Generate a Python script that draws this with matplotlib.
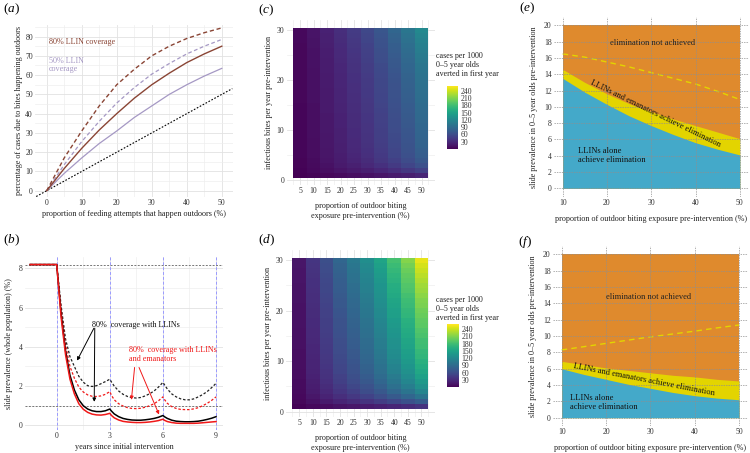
import numpy as np
import matplotlib
matplotlib.use("Agg")
import matplotlib.pyplot as plt
from matplotlib.ticker import MultipleLocator, FixedLocator

plt.rcParams['font.family'] = ['Liberation Serif', 'DejaVu Serif']
plt.rcParams['mathtext.fontset'] = 'custom'
plt.rcParams['mathtext.rm'] = 'Liberation Serif'
plt.rcParams['mathtext.it'] = 'Liberation Serif:italic'

# ---------------- panel (a) ----------------
a_x = [0, 5, 10, 15, 20, 25, 30, 35, 40, 45, 50]
a_llin80_solid = [0, 11.5, 22, 31.5, 40, 48, 55, 61, 66.5, 71, 75]
a_llin80_dash = [0, 17, 31, 44, 55, 63, 70, 75, 79, 82, 84.5]
a_llin50_dash = [0, 13.5, 25.5, 36, 45.5, 53.5, 60.5, 66, 71, 75, 78.5]
a_llin50_solid = [0, 9, 17, 24.5, 31, 38, 44, 50, 55, 59.5, 63.5]
a_ref_x = [-3, 53]
a_ref_y = [-3, 53]

# ---------------- panel (b) ----------------
b_t = [-1.5, 0, 0.25, 0.5, 0.75, 1.0, 1.25, 1.5, 1.75, 2.0, 2.25, 2.5, 2.75, 3.0,
       3.1, 3.25, 3.5, 3.75, 4.0, 4.25, 4.5, 4.75, 5.0, 5.25, 5.5, 5.75, 6.0,
       6.1, 6.25, 6.5, 6.75, 7.0, 7.25, 7.5, 7.75, 8.0, 8.25, 8.5, 8.75, 9.0]
b_llin_dash = [8.2, 8.2, 6.1, 4.4, 3.5, 3.0, 2.5, 2.2, 2.02, 1.98, 2.02, 2.12, 2.23, 2.35,
               2.2, 2.0, 1.75, 1.58, 1.47, 1.41, 1.39, 1.42, 1.5, 1.61, 1.75, 1.95, 2.19,
               2.05, 1.85, 1.6, 1.45, 1.35, 1.3, 1.3, 1.35, 1.45, 1.57, 1.72, 1.92, 2.14]
b_eman_dash = [8.2, 8.2, 5.9, 4.1, 3.0, 2.4, 1.95, 1.7, 1.55, 1.48, 1.47, 1.5, 1.58, 1.72,
               1.52, 1.3, 1.1, 0.98, 0.9, 0.86, 0.85, 0.87, 0.92, 1.0, 1.1, 1.25, 1.45,
               1.3, 1.12, 0.95, 0.86, 0.81, 0.8, 0.8, 0.84, 0.9, 1.0, 1.12, 1.27, 1.45]
b_llin_solid = [8.2, 8.2, 5.7, 3.8, 2.55, 1.8, 1.3, 1.0, 0.83, 0.74, 0.7, 0.7, 0.74, 0.83,
                0.72, 0.58, 0.44, 0.35, 0.3, 0.27, 0.26, 0.26, 0.28, 0.31, 0.35, 0.41, 0.5,
                0.43, 0.35, 0.26, 0.21, 0.19, 0.18, 0.18, 0.19, 0.21, 0.25, 0.3, 0.36, 0.44]
b_eman_solid = [8.2, 8.2, 5.5, 3.6, 2.35, 1.6, 1.1, 0.82, 0.66, 0.57, 0.53, 0.52, 0.55, 0.61,
                0.5, 0.38, 0.27, 0.2, 0.17, 0.15, 0.14, 0.14, 0.15, 0.17, 0.2, 0.24, 0.31,
                0.25, 0.19, 0.14, 0.11, 0.1, 0.1, 0.1, 0.1, 0.11, 0.13, 0.15, 0.17, 0.19]
b_baseline = 8.2
b_threshold = 1.0
b_rounds = [0, 3, 6, 9]

# ---------------- panels (c) and (d) ----------------
hm_x = [5, 10, 15, 20, 25, 30, 35, 40, 45, 50]
hm_y = list(range(1, 31))
c_vals = [
    [1, 3, 5, 7, 10, 12, 15, 19, 22, 27],
    [2, 6, 10, 14, 18, 22, 28, 34, 41, 49],
    [3, 7, 12, 18, 23, 29, 36, 44, 53, 63],
    [3, 8, 14, 20, 26, 32, 41, 49, 59, 71],
    [4, 9, 15, 21, 28, 35, 43, 53, 63, 76],
    [4, 9, 15, 22, 29, 36, 45, 54, 65, 78],
    [4, 9, 16, 22, 30, 37, 46, 56, 67, 81],
    [4, 9, 16, 23, 30, 38, 47, 57, 68, 82],
    [4, 10, 16, 23, 31, 38, 48, 58, 69, 83],
    [4, 10, 17, 23, 31, 39, 48, 59, 70, 84],
    [4, 10, 17, 24, 32, 39, 49, 60, 71, 85],
    [4, 10, 17, 24, 32, 40, 50, 60, 72, 87],
    [4, 10, 17, 24, 32, 40, 50, 61, 73, 88],
    [4, 10, 18, 25, 33, 41, 51, 62, 74, 89],
    [4, 10, 18, 25, 33, 41, 52, 63, 75, 90],
    [5, 11, 18, 26, 34, 42, 53, 64, 77, 92],
    [5, 11, 18, 26, 34, 43, 53, 65, 78, 93],
    [5, 11, 18, 26, 35, 43, 54, 65, 79, 94],
    [5, 11, 19, 27, 35, 44, 55, 66, 80, 95],
    [5, 11, 19, 27, 36, 44, 55, 67, 81, 96],
    [5, 11, 19, 27, 36, 45, 56, 68, 82, 98],
    [5, 11, 20, 28, 37, 46, 57, 70, 84, 100],
    [5, 12, 20, 28, 37, 46, 58, 71, 85, 101],
    [5, 12, 20, 29, 38, 48, 60, 72, 87, 104],
    [5, 12, 21, 30, 39, 49, 61, 74, 89, 106],
    [5, 12, 21, 30, 40, 50, 62, 76, 91, 109],
    [5, 13, 22, 31, 41, 51, 64, 77, 93, 111],
    [6, 13, 23, 32, 42, 53, 66, 80, 96, 115],
    [6, 14, 23, 33, 44, 54, 68, 82, 99, 118],
    [6, 14, 24, 34, 45, 56, 70, 85, 102, 122],
]
d_vals = [
    [2, 6, 9, 13, 16, 19, 23, 27, 32, 38],
    [5, 12, 19, 26, 32, 38, 46, 55, 64, 75],
    [6, 16, 25, 34, 42, 51, 61, 73, 85, 100],
    [7, 19, 29, 40, 49, 60, 71, 86, 100, 118],
    [8, 21, 32, 44, 55, 66, 79, 95, 110, 130],
    [8, 22, 35, 48, 59, 71, 85, 102, 119, 140],
    [9, 24, 37, 50, 62, 75, 90, 107, 125, 148],
    [9, 25, 38, 53, 65, 79, 94, 113, 131, 155],
    [10, 26, 40, 54, 67, 81, 97, 116, 136, 160],
    [10, 26, 41, 56, 69, 84, 100, 120, 140, 165],
    [10, 27, 42, 58, 71, 86, 103, 124, 144, 170],
    [10, 28, 43, 59, 72, 88, 105, 126, 146, 173],
    [11, 28, 44, 60, 75, 90, 108, 129, 151, 178],
    [11, 29, 45, 61, 76, 91, 109, 131, 153, 180],
    [11, 30, 46, 63, 78, 94, 112, 135, 157, 185],
    [11, 30, 47, 64, 79, 95, 114, 137, 159, 188],
    [12, 31, 48, 65, 81, 98, 117, 140, 163, 193],
    [12, 31, 48, 66, 82, 99, 119, 142, 165, 195],
    [12, 32, 50, 68, 84, 102, 122, 146, 170, 200],
    [12, 32, 50, 69, 85, 103, 123, 147, 172, 203],
    [12, 33, 51, 71, 87, 105, 126, 151, 176, 208],
    [13, 34, 52, 71, 88, 107, 128, 153, 178, 210],
    [13, 34, 53, 73, 90, 109, 131, 157, 182, 215],
    [13, 35, 55, 75, 92, 112, 134, 160, 187, 220],
    [13, 36, 55, 76, 93, 113, 135, 162, 189, 223],
    [14, 36, 56, 77, 96, 116, 138, 166, 193, 228],
    [14, 37, 58, 79, 98, 118, 141, 169, 197, 233],
    [14, 38, 59, 81, 100, 121, 144, 173, 201, 238],
    [15, 39, 60, 82, 102, 123, 147, 177, 206, 243],
    [15, 40, 62, 85, 105, 127, 152, 182, 212, 250],
]
cb_ticks = [30, 60, 90, 120, 150, 180, 210, 240]
cb_limits = [0, 260]

# ---------------- panels (e) and (f) ----------------
ef_x = [10, 15, 20, 25, 30, 35, 40, 45, 50]
e_llin_top = [13.5, 11.8, 10.3, 8.9, 7.7, 6.6, 5.6, 4.8, 4.1]
e_eman_top = [14.6, 13.0, 11.6, 10.4, 9.4, 8.5, 7.7, 6.9, 6.1]
e_dash = [16.5, 16.1, 15.5, 14.9, 14.2, 13.5, 12.8, 11.9, 10.9]
f_llin_top = [6.0, 5.3, 4.7, 4.1, 3.6, 3.1, 2.7, 2.4, 2.2]
f_eman_top = [6.9, 6.5, 6.1, 5.8, 5.5, 5.2, 5.0, 4.7, 4.5]
f_dash = [8.3, 8.7, 9.1, 9.5, 9.9, 10.25, 10.6, 11.0, 11.35]
ef_ymax = 20

# ---------------- styling ----------------
W, H = 750, 453
FS = 5.6
BROWN = '#8a4535'
LAV = '#a598c4'
RED = '#f01818'
ORANGE = '#df8a2d'
YELLOW = '#e3d400'
BLUE = '#44a9c9'
GRID_MAJ = '#e2e2e2'
GRID_MIN = '#ededed'

fig = plt.figure(figsize=(W / 100, H / 100), dpi=100)


def px_axes(l, t, r, b):
    return fig.add_axes([l / W, 1 - b / H, (r - l) / W, (b - t) / H])


def style(ax, grid=True):
    for s in ax.spines.values():
        s.set_visible(False)
    ax.tick_params(which='both', length=0, labelsize=FS, pad=1.5, colors='#333333')
    if grid:
        ax.grid(True, which='major', color=GRID_MAJ, lw=0.6)
        ax.grid(True, which='minor', color=GRID_MIN, lw=0.45)
        ax.set_axisbelow(True)


def panel_label(x, y, s):
    fig.text(x / W, 1 - y / H, s, fontsize=9.5, ha='left', va='center')


# (a)
ax = px_axes(35, 25, 233, 196.7)
style(ax)
ax.set_xlim(-3.34, 53.2)
ax.set_ylim(-3.1, 86.0)
ax.xaxis.set_major_locator(MultipleLocator(10))
ax.xaxis.set_minor_locator(MultipleLocator(5))
ax.yaxis.set_major_locator(MultipleLocator(10))
ax.yaxis.set_minor_locator(MultipleLocator(5))
ax.plot(a_ref_x, a_ref_y, color='black', lw=0.8, ls=(0, (1.5, 1.5)))
ax.plot(a_x, a_llin50_solid, color=LAV, lw=0.9)
ax.plot(a_x, a_llin50_dash, color=LAV, lw=0.9, ls=(0, (3, 2)))
ax.plot(a_x, a_llin80_solid, color=BROWN, lw=1.0)
ax.plot(a_x, a_llin80_dash, color=BROWN, lw=1.0, ls=(0, (3, 2)))
ax.text(0.7, 77.4, '80% LLIN coverage', color=BROWN, fontsize=FS + 0.3, va='center')
ax.text(0.7, 65.0, '50% LLIN\ncoverage', color=LAV, fontsize=FS + 0.3, va='center',
        linespacing=1.0)
ax.set_xlabel('proportion of feeding attempts that happen outdoors (%)', fontsize=FS + 0.3,
              labelpad=2, color='#222222')
ax.set_ylabel('percentage of cases due to bites happening outdoors', fontsize=FS + 0.3,
              labelpad=2, color='#222222')
panel_label(3, 9, r'$(a)$')

# (b)
ax = px_axes(25, 256.7, 223.3, 430)
style(ax)
ax.set_xlim(-1.79, 9.41)
ax.set_ylim(-0.24, 8.6)
ax.xaxis.set_major_locator(FixedLocator(b_rounds))
ax.xaxis.set_minor_locator(FixedLocator([1.5, 4.5, 7.5]))
ax.yaxis.set_major_locator(MultipleLocator(2))
ax.yaxis.set_minor_locator(MultipleLocator(1))
for r in b_rounds:
    ax.axvline(r, color='#9a9aff', lw=0.7, ls=(0, (3, 2)), zorder=1)
ax.axhline(b_baseline, color='#777777', lw=0.7, ls=(0, (2, 1.5)), zorder=1)
ax.axhline(b_threshold, color='#777777', lw=0.7, ls=(0, (2, 1.5)), zorder=1)
ax.plot(b_t, b_llin_dash, color='#222222', lw=0.9, ls=(0, (2, 1.5)), zorder=3)
ax.plot(b_t, b_eman_dash, color=RED, lw=0.9, ls=(0, (2, 1.5)), zorder=3)
ax.plot(b_t, b_llin_solid, color='black', lw=1.1, zorder=3)
ax.plot(b_t, b_eman_solid, color=RED, lw=1.1, zorder=4)
ax.text(2.0, 5.1, '80%  coverage with LLINs', fontsize=FS + 0.3, va='center', color='#111111')
aprops_k = dict(arrowstyle='-|>', color='black', lw=0.7, mutation_scale=5,
                shrinkA=0, shrinkB=0)
ax.annotate('', xy=(1.15, 3.3), xytext=(2.1, 4.95), arrowprops=aprops_k)
ax.annotate('', xy=(2.12, 1.2), xytext=(2.15, 4.95), arrowprops=aprops_k)
ax.text(4.1, 3.6, '80%  coverage with LLINs\nand emanators', fontsize=FS + 0.3,
        va='center', color=RED, linespacing=1.1)
aprops_r = dict(arrowstyle='-|>', color=RED, lw=0.7, mutation_scale=5,
                shrinkA=0, shrinkB=0)
ax.annotate('', xy=(4.22, 1.3), xytext=(4.4, 2.95), arrowprops=aprops_r)
ax.annotate('', xy=(5.78, 0.55), xytext=(4.65, 2.95), arrowprops=aprops_r)
ax.set_xlabel('years since initial intervention', fontsize=FS + 0.3, labelpad=2,
              color='#222222')
ax.set_ylabel('slide prevalence (whole population) (%)', fontsize=FS + 0.3, labelpad=4,
              color='#222222')
panel_label(3, 240, r'$(b)$')


# (c), (d)
def heat(ax_box, cax_box, vals, title_y):
    ax = px_axes(*ax_box)
    style(ax)
    ax.set_xlim(0, 55)
    ax.set_ylim(-1, 32)
    ax.xaxis.set_major_locator(FixedLocator(hm_x))
    ax.xaxis.set_minor_locator(FixedLocator([2.5 + 5 * i for i in range(11)]))
    ax.yaxis.set_major_locator(FixedLocator([0, 10, 20, 30]))
    ax.yaxis.set_minor_locator(FixedLocator([5, 15, 25]))
    xe = np.array([hm_x[0] - 2.5] + [v + 2.5 for v in hm_x])
    ye = np.array([hm_y[0] - 0.5] + [v + 0.5 for v in hm_y])
    m = ax.pcolormesh(xe, ye, np.array(vals), cmap='viridis',
                      vmin=cb_limits[0], vmax=cb_limits[1], zorder=2)
    ax.set_xlabel('proportion of outdoor biting\nexposure pre-intervention (%)',
                  fontsize=FS + 0.3, labelpad=5, color='#222222', linespacing=1.3)
    ax.set_ylabel('infectious bites per year pre-intervention', fontsize=FS + 0.3,
                  labelpad=3, color='#222222')
    cax = px_axes(*cax_box)
    cb = fig.colorbar(m, cax=cax, ticks=cb_ticks)
    cb.outline.set_visible(False)
    cax.tick_params(length=0, labelsize=FS, pad=2, colors='#333333')
    fig.text(436 / W, 1 - title_y / H, 'cases per 1000\n0\u20135 year olds\naverted in first year',
             fontsize=FS + 0.2, va='top', ha='left', linespacing=1.15, color='#222222')
    return ax


heat((286.5, 20, 435, 185), (447, 86, 458, 149), c_vals, 52)
panel_label(258, 10, r'$(c)$')
heat((285.7, 250, 435, 416.8), (447.3, 324.3, 459, 387.3), d_vals, 296)
panel_label(258, 240, r'$(d)$')


# (e), (f)
def elim(ax_box, llin_top, eman_top, dash, t1, t2, t3, t2_rot):
    ax = px_axes(*ax_box)
    style(ax, grid=False)
    ax.set_xlim(8, 52)
    ax.set_ylim(-1, 21)
    ax.set_xticks([10, 20, 30, 40, 50])
    ax.set_yticks(list(range(0, 21, 2)))
    ax.fill_between(ef_x, 0, ef_ymax, color=ORANGE, lw=0, zorder=1)
    ax.fill_between(ef_x, 0, eman_top, color=YELLOW, lw=0, zorder=2)
    ax.fill_between(ef_x, 0, llin_top, color=BLUE, lw=0, zorder=3)
    ax.plot(ef_x, dash, color=YELLOW, lw=1.0, ls=(0, (4, 3)), zorder=4)
    for xv in [10, 20, 30, 40, 50]:
        ax.axvline(xv, color='#8f8f8f', lw=0.5, ls=(0, (2, 1.5)), zorder=5)
    for yv in range(0, 21, 2):
        ax.axhline(yv, color='#8f8f8f', lw=0.5, ls=(0, (2, 1.5)), zorder=5)
    ax.text(t1[0], t1[1], 'elimination not achieved', fontsize=FS + 0.5, ha='center',
            va='center', color='#222222', zorder=6)
    ax.text(t2[0], t2[1], 'LLINs and emanators achieve elimination', fontsize=FS + 0.5,
            ha='center', va='center', rotation=t2_rot, color='#111111', zorder=6,
            rotation_mode='anchor')
    ax.text(t3[0], t3[1], 'LLINs alone\nachieve elimination', fontsize=FS + 0.5, ha='left',
            va='center', color='#111111', zorder=6, linespacing=1.2)
    ax.set_xlabel('proportion of outdoor biting exposure pre-intervention (%)',
                  fontsize=FS + 0.3, labelpad=6, color='#222222')
    ax.set_ylabel('slide prevalence in 0\u20135 year olds pre-intervention', fontsize=FS + 0.3,
                  labelpad=4, color='#222222')
    return ax


elim((553.8, 17.2, 748.7, 196.5), e_llin_top, e_eman_top, e_dash,
     (30.2, 17.8), (31.0, 9.2), (13.5, 4.05), -26)
panel_label(519, 8, r'$(e)$')
elim((552.8, 246.2, 748, 425.9), f_llin_top, f_eman_top, f_dash,
     (29.5, 14.8), (28.6, 4.7), (11.9, 1.9), -11)
panel_label(518, 242, r'$(f)$')

fig.savefig('out.png', dpi=100)
